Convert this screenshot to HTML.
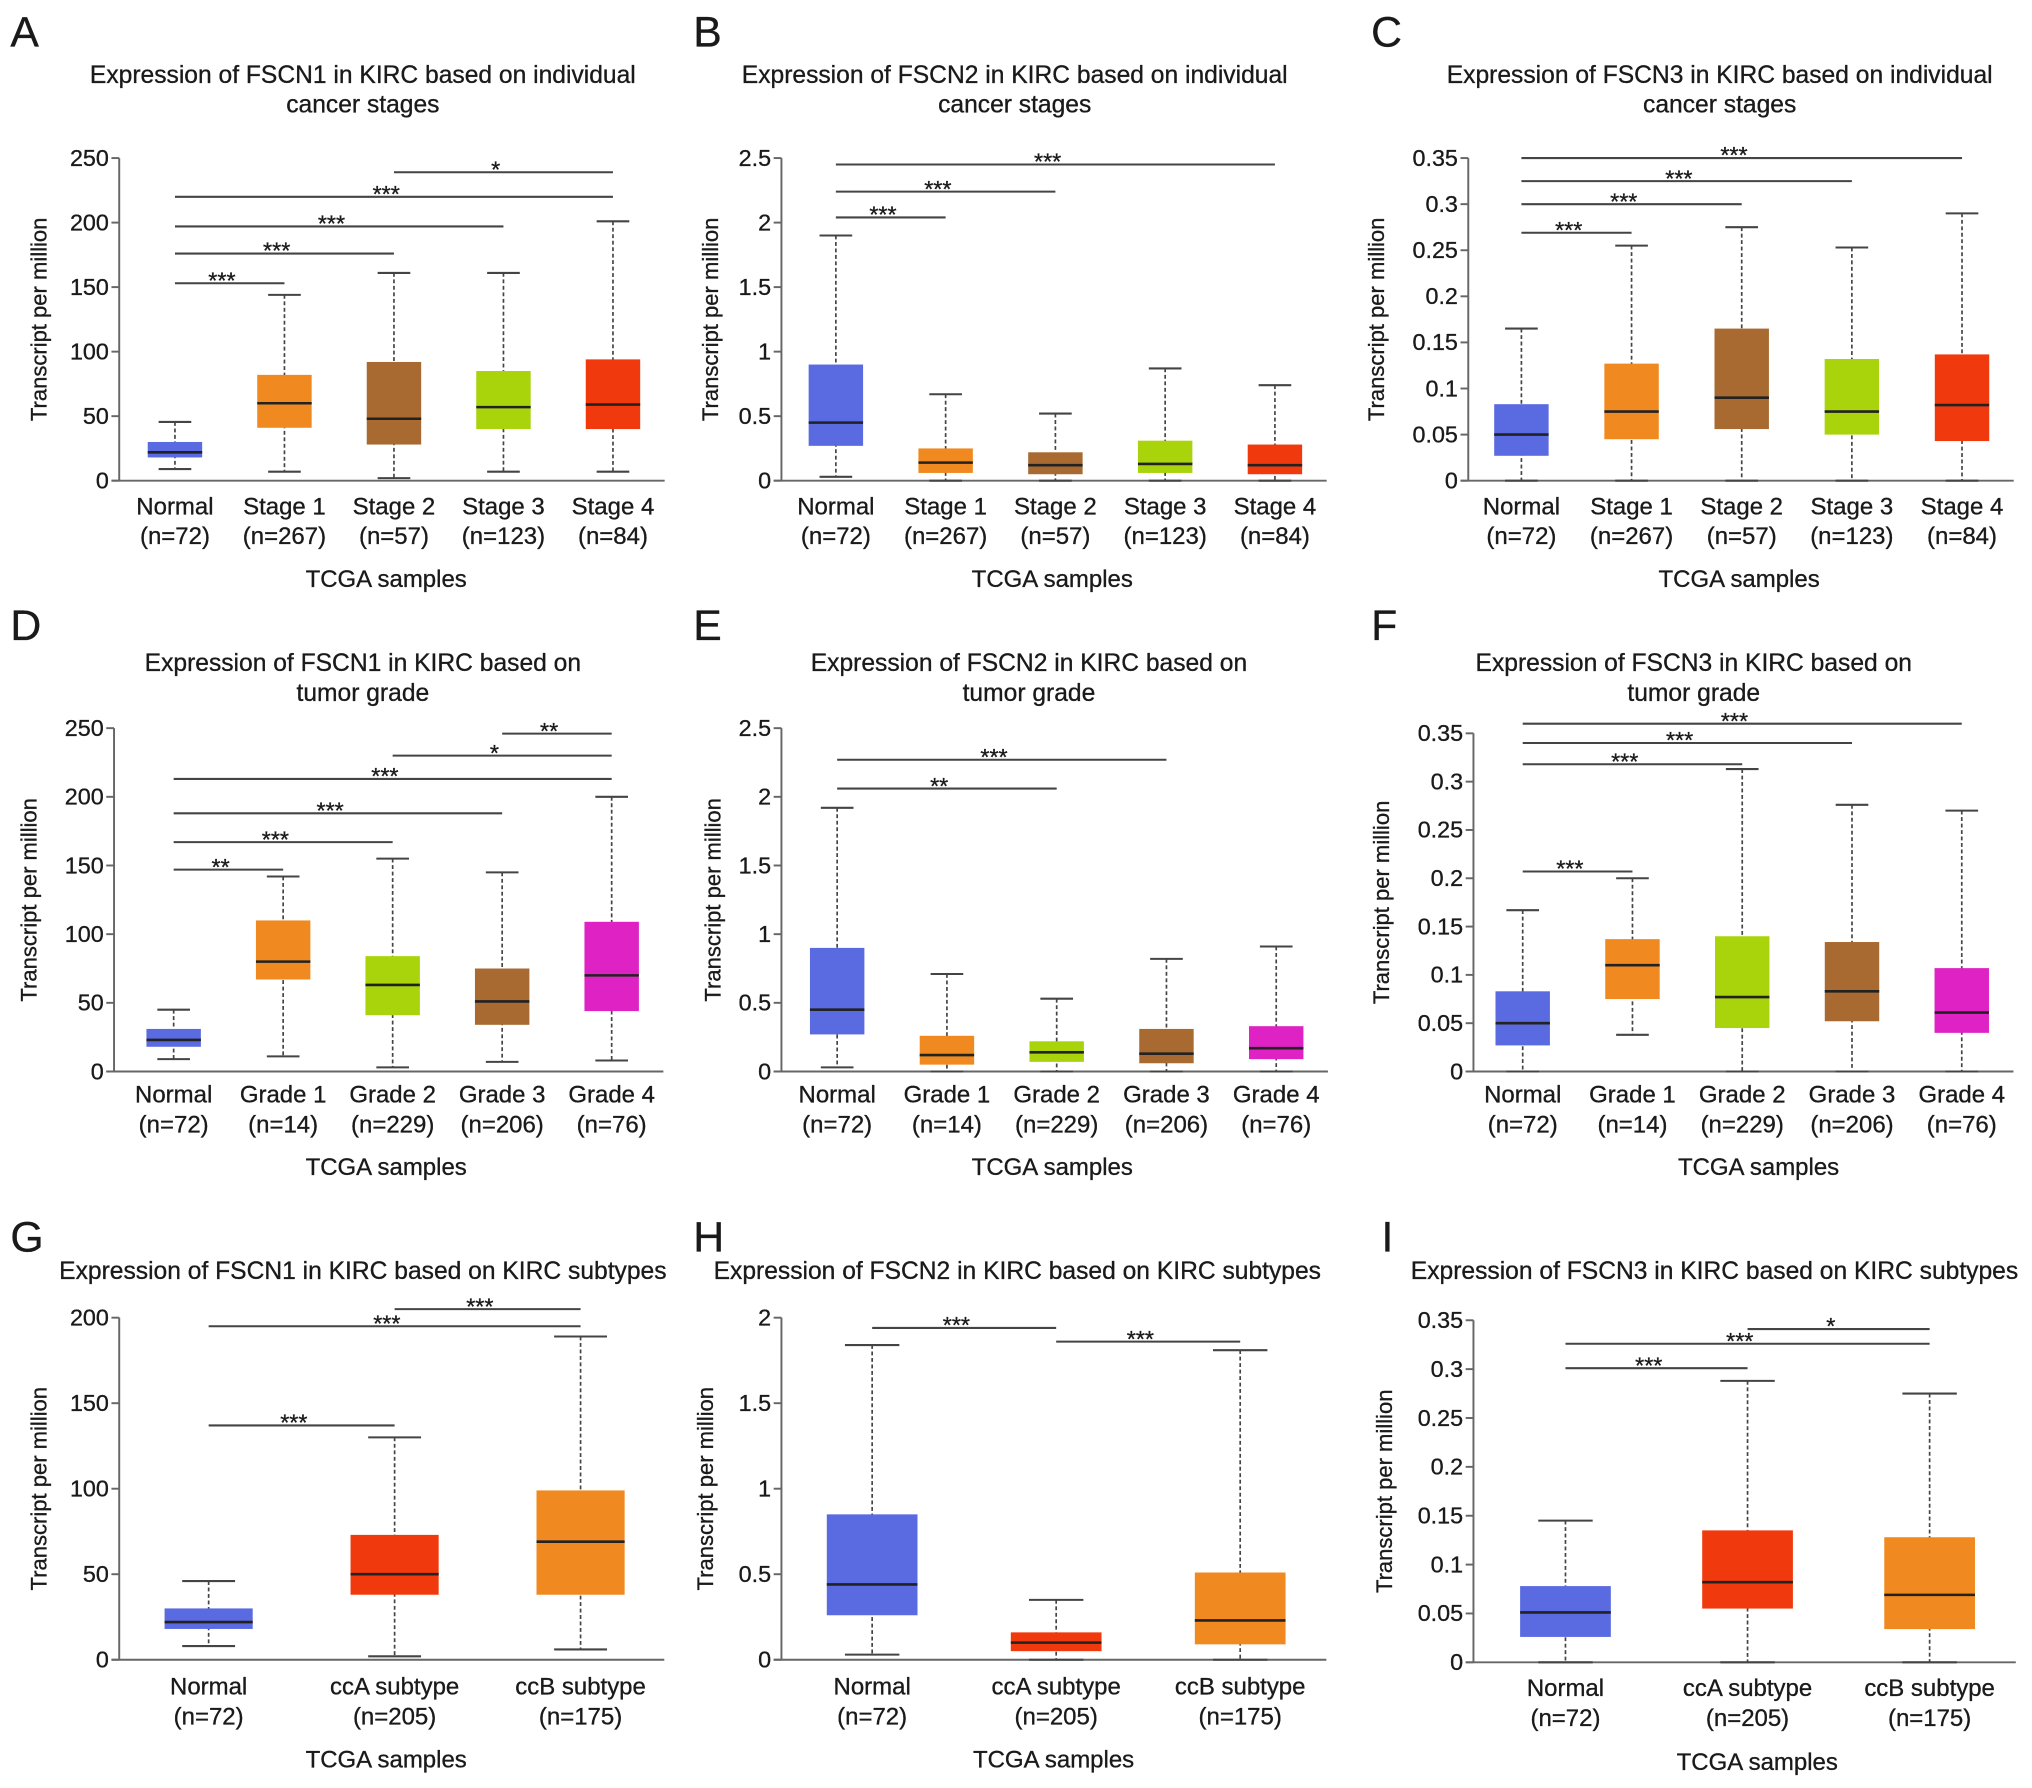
<!DOCTYPE html>
<html><head><meta charset="utf-8"><style>
html,body{margin:0;padding:0;background:#fff;}
svg{display:block;}
text{font-family:"Liberation Sans",Arial,sans-serif;fill:#1a1a1a;stroke:#1a1a1a;stroke-width:0.25;}
</style></head><body>
<svg id="fig" width="2032" height="1788" viewBox="0 0 1568 1380" preserveAspectRatio="none" xmlns="http://www.w3.org/2000/svg"></svg>
<script>
// ---------- DATA ----------
const stageCats = ["Normal","Stage 1","Stage 2","Stage 3","Stage 4"];
const stageNs = ["(n=72)","(n=267)","(n=57)","(n=123)","(n=84)"];
const gradeCats = ["Normal","Grade 1","Grade 2","Grade 3","Grade 4"];
const gradeNs = ["(n=72)","(n=14)","(n=229)","(n=206)","(n=76)"];
const subCats = ["Normal","ccA subtype","ccB subtype"];
const subNs = ["(n=72)","(n=205)","(n=175)"];

const ticks250 = [0,50,100,150,200,250];
const ticks25 = [0,0.5,1,1.5,2,2.5];
const ticks035 = [0,0.05,0.1,0.15,0.2,0.25,0.3,0.35];
const ticks200 = [0,50,100,150,200];
const ticks2 = [0,0.5,1,1.5,2];

// Panel A
const A_max=[45.5,144,161,161,201], A_q3=[30,82,92,85,94], A_med=[22,60,48,57,59], A_q1=[18,41,28,40,40], A_min=[9,7,2,7,7];
const A_sigFrom=[0,0,0,0,2], A_sigTo=[1,2,3,4,4], A_sigVal=[153,176,197,220,239], A_sigLab=["***","***","***","***","*"];
// Panel B
const B_max=[1.9,0.67,0.52,0.87,0.74], B_q3=[0.9,0.25,0.22,0.31,0.28], B_med=[0.45,0.14,0.12,0.13,0.12], B_q1=[0.27,0.06,0.05,0.06,0.05], B_min=[0.03,0,0,0,0];
const B_sigFrom=[0,0,0], B_sigTo=[1,2,4], B_sigVal=[2.04,2.24,2.45], B_sigLab=["***","***","***"];
// Panel C
const C_max=[0.165,0.255,0.275,0.253,0.29], C_q3=[0.083,0.127,0.165,0.132,0.137], C_med=[0.05,0.075,0.09,0.075,0.082], C_q1=[0.027,0.045,0.056,0.05,0.043], C_min=[0,0,0,0,0];
const C_sigFrom=[0,0,0,0], C_sigTo=[1,2,3,4], C_sigVal=[0.269,0.300,0.325,0.35], C_sigLab=["***","***","***","***"];
// Panel D
const D_max=[45,142,155,145,200], D_q3=[31,110,84,75,109], D_med=[23,80,63,51,70], D_q1=[18,67,41,34,44], D_min=[9,11,3,7,8];
const D_sigFrom=[0,0,0,0,2,3], D_sigTo=[1,2,3,4,4,4], D_sigVal=[147,167,188,213,230,246], D_sigLab=["**","***","***","***","*","**"];
// Panel E
const E_max=[1.92,0.71,0.53,0.82,0.91], E_q3=[0.9,0.26,0.22,0.31,0.33], E_med=[0.45,0.12,0.14,0.13,0.17], E_q1=[0.27,0.05,0.07,0.06,0.09], E_min=[0.03,0,0,0,0];
const E_sigFrom=[0,0], E_sigTo=[2,3], E_sigVal=[2.06,2.27], E_sigLab=["**","***"];
// Panel F
const F_max=[0.167,0.2,0.313,0.276,0.27], F_q3=[0.083,0.137,0.14,0.134,0.107], F_med=[0.05,0.11,0.077,0.083,0.061], F_q1=[0.027,0.075,0.045,0.052,0.04], F_min=[0,0.038,0,0,0];
const F_sigFrom=[0,0,0,0], F_sigTo=[1,2,3,4], F_sigVal=[0.207,0.318,0.340,0.360], F_sigLab=["***","***","***","***"];
// Panel G
const G_max=[46,130,189], G_q3=[30,73,99], G_med=[22,50,69], G_q1=[18,38,38], G_min=[8,2,6];
const G_sigFrom=[0,0,1], G_sigTo=[1,2,2], G_sigVal=[137,195,205], G_sigLab=["***","***","***"];
// Panel H
const H_max=[1.84,0.35,1.81], H_q3=[0.85,0.16,0.51], H_med=[0.44,0.1,0.23], H_q1=[0.26,0.05,0.09], H_min=[0.03,0,0];
const H_sigFrom=[0,1], H_sigTo=[1,2], H_sigVal=[1.94,1.86], H_sigLab=["***","***"];
// Panel I
const I_max=[0.145,0.288,0.275], I_q3=[0.078,0.135,0.128], I_med=[0.051,0.082,0.069], I_q1=[0.026,0.055,0.034], I_min=[0,0,0];
const I_sigFrom=[0,0,1], I_sigTo=[1,2,2], I_sigVal=[0.301,0.326,0.341], I_sigLab=["***","***","*"];

// ---------- COLORS ----------
const BLUE="#5a6ae0", ORANGE="#f0891f", BROWN="#a86a30", LIME="#a9d40c", RED="#f03a0e", MAG="#df22c4";

const svg=document.getElementById('fig');
const NS="http://www.w3.org/2000/svg";
function mk(tag,attrs,parent){const e=document.createElementNS(NS,tag);for(const k in attrs)e.setAttribute(k,attrs[k]);(parent||svg).appendChild(e);return e;}
function txt(s,x,y,size,anchor,parent,extra){const t=mk('text',Object.assign({x:x,y:y,'font-size':size,'text-anchor':anchor||'middle'},extra||{}),parent);t.textContent=s;return t;}

function panel(p){
  const g=mk('g',{});
  
  
  const L=mk('text',{x:p.letterX,y:p.letterY,'font-size':33,'text-anchor':'start'},g);
  L.textContent=p.letter;
  
  
  p.title.forEach((line,i)=>{
    const t=txt(line,p.titleX,p.titleY+i*23,19,'middle',g);
    
    
  });
  const tmax=p.ticks[p.ticks.length-1];
  const y=v=>p.y0-(v/tmax)*(p.y0-p.yTop);
  const n=p.cats.length;
  const cx=i=>p.c0+i*p.step;
  const right=cx(n-1)+p.bw*0.95;
  const ya=mk('line',{x1:p.ax,y1:p.y0,x2:p.ax,y2:p.yTop,stroke:'#666','stroke-width':1.5},g);
  
  
  const xa=mk('line',{x1:p.ax-6,y1:p.y0,x2:right,y2:p.y0,stroke:'#666','stroke-width':1.5},g);
  
  
  p.ticks.forEach(v=>{
    mk('line',{x1:p.ax-6,y1:y(v),x2:p.ax,y2:y(v),stroke:'#666','stroke-width':1.5},g);
    const t=txt(String(v),p.ax-8,y(v)+6,18,'end',g);
    
    
  });
  const yt=txt('Transcript per million',0,0,17,'middle',g,{transform:`translate(${p.ylx},${(p.y0+p.yTop)/2}) rotate(-90)`});
  
  
  for(let i=0;i<n;i++){
    const x=cx(i),hw=p.bw/2,cw=p.bw*0.3;
    const bx=mk('g',{},g);
    
    
    mk('line',{x1:x,y1:y(p.max[i]),x2:x,y2:y(p.min[i]),stroke:'#444','stroke-width':1.3,'stroke-dasharray':'3,2'},bx);
    mk('line',{x1:x-cw,y1:y(p.max[i]),x2:x+cw,y2:y(p.max[i]),stroke:'#444','stroke-width':1.6},bx);
    mk('line',{x1:x-cw,y1:y(p.min[i]),x2:x+cw,y2:y(p.min[i]),stroke:'#444','stroke-width':1.6},bx);
    mk('rect',{x:x-hw,y:y(p.q3[i]),width:p.bw,height:Math.max(1,y(p.q1[i])-y(p.q3[i])),fill:p.colors[i]},bx);
    mk('line',{x1:x-hw,y1:y(p.med[i]),x2:x+hw,y2:y(p.med[i]),stroke:'#222','stroke-width':2},bx);
    const l1=txt(p.cats[i],x,p.labY,18.5,'middle',g);
    
    
    const l2=txt(p.ns[i],x,p.labY+23,18.5,'middle',g);
    
    
  }
  const xt=txt('TCGA samples',p.xtX,p.xtY,18.5,'middle',g);
  
  
  for(let k=0;k<p.sigVal.length;k++){
    const x1=cx(p.sigFrom[k]),x2=cx(p.sigTo[k]),yy=y(p.sigVal[k]);
    const s=mk('g',{},g);
    
    
    mk('line',{x1:x1,y1:yy,x2:x2,y2:yy,stroke:'#444','stroke-width':1.6},s);
    txt(p.sigLab[k],(x1+x2)/2-6,yy+4,18,'middle',s);
  }
}

const C5s=[BLUE,ORANGE,BROWN,LIME,RED], C5g=[BLUE,ORANGE,LIME,BROWN,MAG], C3=[BLUE,RED,ORANGE];
const row1={y0:371,yTop:122,labY:397,xtY:453,titleY:64};
const row2={y0:827,yTop:562,labY:851,xtY:907,titleY:518};
const row3={y0:1281,yTop:1017,labY:1308,xtY:1364,titleY:987};

panel(Object.assign({},row1,{letter:'A',letterX:8,letterY:36,title:['Expression of FSCN1 in KIRC based on individual','cancer stages'],titleX:280,ax:92,c0:135,step:84.5,bw:42,ylx:36,xtX:298,cats:stageCats,ns:stageNs,colors:C5s,ticks:ticks250,max:A_max,q3:A_q3,med:A_med,q1:A_q1,min:A_min,sigFrom:A_sigFrom,sigTo:A_sigTo,sigVal:A_sigVal,sigLab:A_sigLab}));
panel(Object.assign({},row1,{letter:'B',letterX:535,letterY:36,title:['Expression of FSCN2 in KIRC based on individual','cancer stages'],titleX:783,ax:603,c0:645,step:84.7,bw:42,ylx:554,xtX:812,cats:stageCats,ns:stageNs,colors:C5s,ticks:ticks25,max:B_max,q3:B_q3,med:B_med,q1:B_q1,min:B_min,sigFrom:B_sigFrom,sigTo:B_sigTo,sigVal:B_sigVal,sigLab:B_sigLab}));
panel(Object.assign({},row1,{letter:'C',letterX:1058,letterY:36,title:['Expression of FSCN3 in KIRC based on individual','cancer stages'],titleX:1327,ax:1133,c0:1174,step:85,bw:42,ylx:1068,xtX:1342,cats:stageCats,ns:stageNs,colors:C5s,ticks:ticks035,max:C_max,q3:C_q3,med:C_med,q1:C_q1,min:C_min,sigFrom:C_sigFrom,sigTo:C_sigTo,sigVal:C_sigVal,sigLab:C_sigLab}));

panel(Object.assign({},row2,{letter:'D',letterX:8,letterY:494,title:['Expression of FSCN1 in KIRC based on','tumor grade'],titleX:280,ax:88,c0:134,step:84.5,bw:42,ylx:28,xtX:298,cats:gradeCats,ns:gradeNs,colors:C5g,ticks:ticks250,max:D_max,q3:D_q3,med:D_med,q1:D_q1,min:D_min,sigFrom:D_sigFrom,sigTo:D_sigTo,sigVal:D_sigVal,sigLab:D_sigLab}));
panel(Object.assign({},row2,{letter:'E',letterX:535,letterY:494,title:['Expression of FSCN2 in KIRC based on','tumor grade'],titleX:794,ax:603,c0:646,step:84.7,bw:42,ylx:556,xtX:812,cats:gradeCats,ns:gradeNs,colors:C5g,ticks:ticks25,max:E_max,q3:E_q3,med:E_med,q1:E_q1,min:E_min,sigFrom:E_sigFrom,sigTo:E_sigTo,sigVal:E_sigVal,sigLab:E_sigLab}));
panel(Object.assign({},row2,{letter:'F',letterX:1058,letterY:494,yTop:566,title:['Expression of FSCN3 in KIRC based on','tumor grade'],titleX:1307,ax:1137,c0:1175,step:84.7,bw:42,ylx:1072,xtX:1357,cats:gradeCats,ns:gradeNs,colors:C5g,ticks:ticks035,max:F_max,q3:F_q3,med:F_med,q1:F_q1,min:F_min,sigFrom:F_sigFrom,sigTo:F_sigTo,sigVal:F_sigVal,sigLab:F_sigLab}));

panel(Object.assign({},row3,{letter:'G',letterX:8,letterY:966,title:['Expression of FSCN1 in KIRC based on KIRC subtypes'],titleX:280,ax:92,c0:161,step:143.5,bw:68,ylx:36,xtX:298,cats:subCats,ns:subNs,colors:C3,ticks:ticks200,max:G_max,q3:G_q3,med:G_med,q1:G_q1,min:G_min,sigFrom:G_sigFrom,sigTo:G_sigTo,sigVal:G_sigVal,sigLab:G_sigLab}));
panel(Object.assign({},row3,{letter:'H',letterX:535,letterY:966,title:['Expression of FSCN2 in KIRC based on KIRC subtypes'],titleX:785,ax:603,c0:673,step:142,bw:70,ylx:550,xtX:813,cats:subCats,ns:subNs,colors:C3,ticks:ticks2,max:H_max,q3:H_q3,med:H_med,q1:H_q1,min:H_min,sigFrom:H_sigFrom,sigTo:H_sigTo,sigVal:H_sigVal,sigLab:H_sigLab}));
panel(Object.assign({},row3,{letter:'I',letterX:1066,letterY:966,y0:1283,yTop:1019,labY:1309,xtY:1366,title:['Expression of FSCN3 in KIRC based on KIRC subtypes'],titleX:1323,ax:1137,c0:1208,step:140.5,bw:70,ylx:1074,xtX:1356,cats:subCats,ns:subNs,colors:C3,ticks:ticks035,max:I_max,q3:I_q3,med:I_med,q1:I_q1,min:I_min,sigFrom:I_sigFrom,sigTo:I_sigTo,sigVal:I_sigVal,sigLab:I_sigLab}));
</script>
</body></html>
